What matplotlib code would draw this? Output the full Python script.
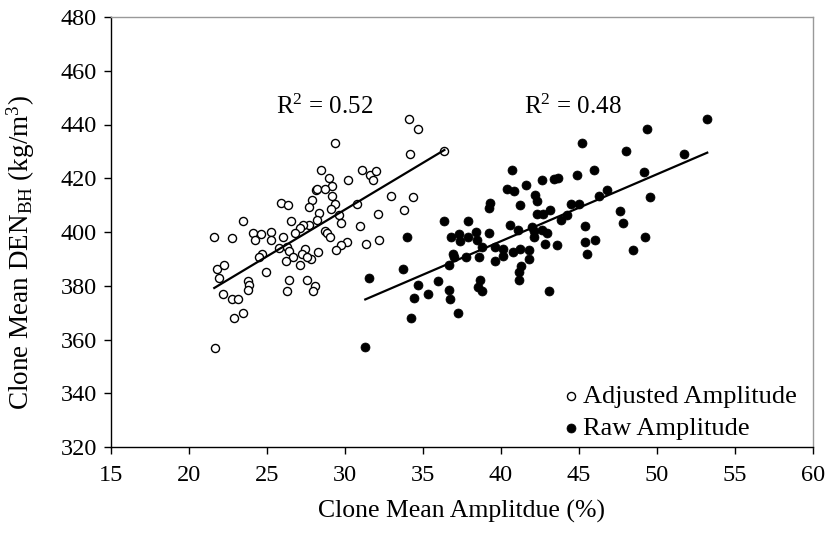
import numpy as np
import matplotlib
matplotlib.use("Agg")
import matplotlib.pyplot as plt

plt.rcParams['font.family'] = ['Liberation Serif', 'DejaVu Serif']
plt.rcParams['mathtext.fontset'] = 'custom'
plt.rcParams['mathtext.rm'] = 'Liberation Serif'
plt.rcParams['mathtext.it'] = 'Liberation Serif:italic'

# Adjusted amplitude (hollow)
adj_x = [34.10, 34.66, 29.36, 34.17, 28.46, 31.07, 31.60, 31.97, 31.78, 28.97,
         30.21, 29.19, 28.14, 28.20, 28.70, 29.15, 27.90, 32.93, 34.38, 25.88,
         26.33, 27.71, 29.36, 29.12, 30.75, 33.76, 28.35, 29.63, 32.10, 26.54,
         28.22, 23.46, 29.72, 27.71, 27.29, 27.12, 30.96, 26.81, 28.70, 28.85,
         24.08, 24.62, 25.28, 21.62, 22.76, 24.25, 25.24, 26.03, 29.06, 31.33,
         32.16, 30.11, 29.72, 29.42, 25.79, 26.26, 26.43, 27.46, 28.25, 24.70,
         24.47, 26.69, 27.22, 27.80, 27.54, 26.20, 27.12, 21.78, 22.26, 21.90,
         24.94, 23.78, 23.83, 23.76, 26.43, 27.54, 28.10, 27.97, 26.28, 22.18,
         22.76, 23.14, 23.48, 22.87, 21.67, 36.37]
adj_y = [441.9, 438.2, 433.2, 429.0, 423.1, 423.1, 421.3, 422.6, 419.3, 420.1,
         419.3, 417.2, 415.6, 416.0, 415.9, 413.5, 411.9, 413.5, 413.0, 410.9,
         409.9, 409.2, 410.5, 408.4, 410.4, 408.1, 407.0, 406.3, 406.6, 404.1,
         404.5, 404.1, 403.2, 402.5, 402.5, 401.4, 402.2, 399.5, 400.4, 399.6,
         399.5, 399.4, 399.9, 398.3, 397.9, 397.0, 397.0, 398.1, 398.3, 395.5,
         397.0, 396.3, 395.1, 393.3, 393.9, 394.5, 393.0, 393.8, 392.4, 391.9,
         390.8, 390.8, 391.8, 390.0, 390.8, 389.2, 387.7, 386.2, 387.8, 383.0,
         385.1, 381.8, 380.2, 378.3, 382.0, 382.1, 379.9, 377.9, 378.2, 377.0,
         375.2, 375.1, 370.0, 368.1, 357.0, 430.1]

# Raw amplitude (filled)
raw_x = [53.22, 49.34, 45.21, 48.01, 51.75, 40.69, 45.98, 49.15, 44.85, 42.65,
         43.42, 43.63, 40.37, 40.83, 41.60, 42.20, 42.31, 46.79, 46.28, 49.53,
         39.28, 39.21, 41.22, 44.49, 45.02, 43.14, 42.67, 42.29, 44.21, 43.83,
         47.63, 47.84, 36.37, 37.90, 40.58, 41.11, 42.01, 42.12, 42.14, 42.61,
         42.93, 45.38, 43.57, 42.84, 45.37, 46.04, 45.51, 49.23, 48.46, 43.08,
         33.97, 36.78, 37.31, 37.37, 37.90, 38.38, 38.44, 39.23, 38.76, 39.63,
         40.11, 40.15, 40.75, 41.22, 41.81, 41.81, 36.94, 36.99, 37.74, 38.61,
         39.60, 36.65, 41.28, 41.13, 41.15, 33.72, 31.54, 34.66, 35.98, 35.34,
         34.42, 36.69, 36.73, 38.65, 38.54, 38.78, 37.24, 34.21, 31.30]
raw_y = [441.9, 438.2, 433.0, 430.0, 429.0, 423.0, 423.0, 422.4, 421.2, 419.3,
         419.6, 420.2, 415.9, 415.4, 417.4, 413.8, 411.6, 415.7, 413.5, 413.1,
         410.9, 409.0, 409.9, 410.4, 410.4, 408.2, 406.8, 406.7, 406.3, 404.5,
         407.9, 403.3, 404.0, 404.0, 402.5, 400.7, 402.0, 400.5, 398.0, 400.7,
         399.5, 402.2, 395.1, 395.5, 396.3, 397.0, 391.7, 398.3, 393.2, 377.9,
         398.3, 398.0, 399.3, 396.8, 398.0, 400.0, 397.0, 399.5, 394.5, 394.3,
         393.7, 391.2, 392.6, 393.7, 393.3, 390.0, 391.7, 390.6, 390.8, 390.6,
         389.3, 387.8, 387.3, 385.1, 382.1, 386.2, 382.9, 380.4, 381.7, 376.8,
         375.3, 378.4, 375.2, 382.1, 379.6, 378.2, 370.0, 368.1, 357.3]

r2_labels = ["R$^{2}$ = 0.52", "R$^{2}$ = 0.48"]
series_names = ["Adjusted Amplitude", "Raw Amplitude"]
x_ticks = [15, 20, 25, 30, 35, 40, 45, 50, 55, 60]
y_ticks = [320, 340, 360, 380, 400, 420, 440, 460, 480]

fig = plt.figure(figsize=(8.26, 5.40), dpi=100)
ax = fig.add_axes([111/826, 1-447/540, (813-111)/826, (447-17)/540])

ax.scatter(adj_x, adj_y, s=34, facecolors='white', edgecolors='black',
           linewidths=1.0, zorder=3, label=series_names[0])
ax.scatter(raw_x, raw_y, s=42, facecolors='black', edgecolors='black',
           linewidths=0.5, zorder=3, label=series_names[1])

for xs, ys in ((adj_x, adj_y), (raw_x, raw_y)):
    xs = np.asarray(xs); ys = np.asarray(ys)
    m, b = np.polyfit(xs, ys, 1)
    xl = np.array([xs.min(), xs.max()])
    ax.plot(xl, m*xl + b, color='black', lw=1.6, zorder=4)

ax.text(25.55, 443.9, r2_labels[0], fontsize=18, ha='left', va='baseline')
ax.text(41.45, 443.9, r2_labels[1], fontsize=18, ha='left', va='baseline')

ax.set_xlim(15, 60)
ax.set_ylim(320, 480)
ax.set_xticks(x_ticks)
ax.set_yticks(y_ticks)
ax.tick_params(direction='out', length=5, width=1, labelsize=17.5, pad=5)
ax.tick_params(axis='x', pad=8)
for s in ('left', 'bottom'):
    ax.spines[s].set_color('black')
    ax.spines[s].set_linewidth(1.0)
for s in ('top', 'right'):
    ax.spines[s].set_color('#999999')
    ax.spines[s].set_linewidth(1.0)

ax.set_xlabel('Clone Mean Amplitdue (%)', fontsize=18.5, labelpad=10)
ax.set_ylabel(r'Clone Mean DEN$_{\mathrm{BH}}$ (kg/m$^{3}$)', fontsize=19.5)
ax.yaxis.set_label_coords(-0.105, 0.453)

leg = ax.legend(loc='lower right', bbox_to_anchor=(1.0, -0.02), frameon=False,
                fontsize=19, handletextpad=0.05, labelspacing=0.3,
                borderaxespad=0.2, handlelength=0.8)

fig.savefig('out.png', dpi=100)
